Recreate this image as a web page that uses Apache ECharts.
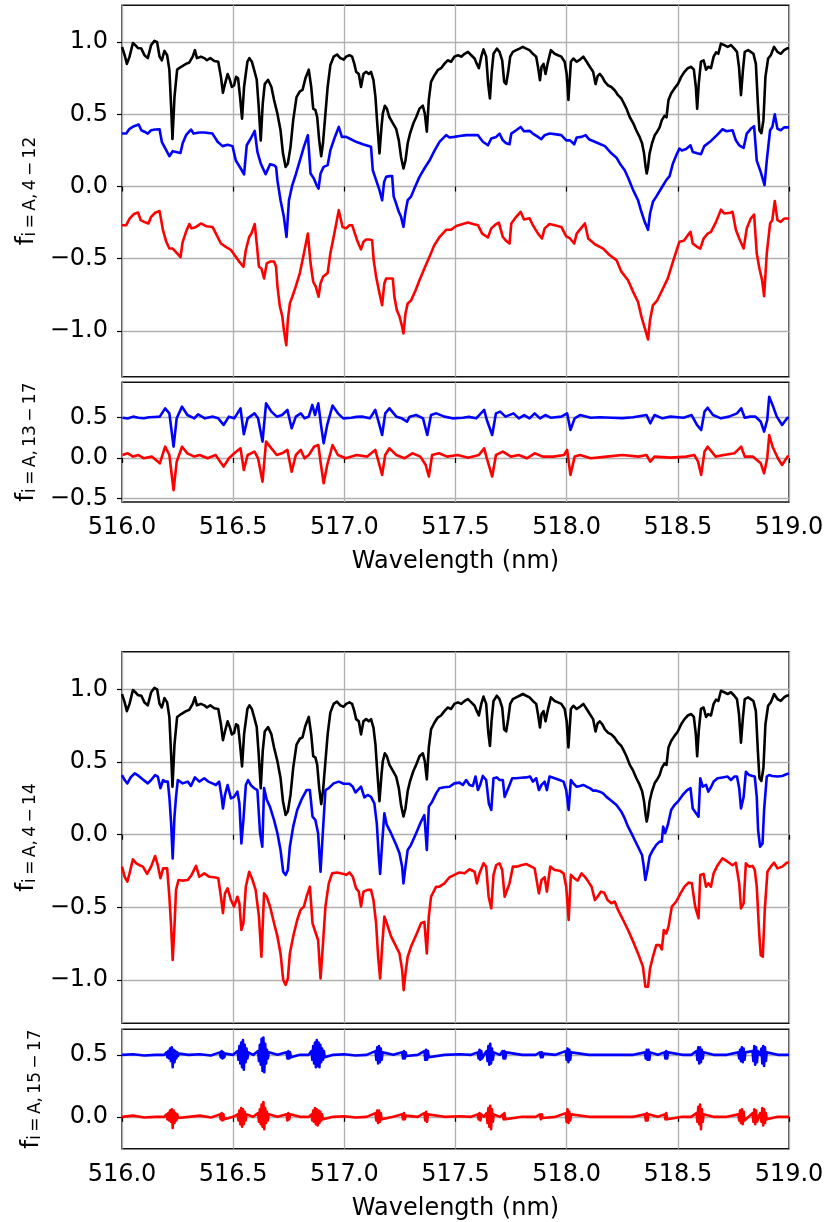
<!DOCTYPE html>
<html>
<head>
<meta charset="utf-8">
<script src="https://cdn.jsdelivr.net/npm/echarts@6/dist/echarts.min.js"></script>
<style>
html,body{margin:0;padding:0;background:#fff}
#chart{width:830px;height:1222px}
</style>
</head>
<body>
<div id="chart"></div>
<script>
// Observed spectrum, [wavelength nm, flux]
const specObserved = [
[516.000,0.967],[516.012,0.91],[516.022,0.85],[516.034,0.90],[516.049,0.995],[516.060,0.98],[516.072,0.96],[516.087,0.956],[516.101,0.91],[516.116,0.89],[516.131,0.98],[516.146,1.01],[516.158,1.0],[516.169,0.90],[516.179,0.875],[516.191,0.94],[516.203,0.91],[516.213,0.81],[516.221,0.55],[516.227,0.33],[516.236,0.62],[516.248,0.81],[516.266,0.83],[516.288,0.85],[516.303,0.86],[516.318,0.90],[516.328,0.945],[516.337,0.89],[516.355,0.90],[516.370,0.89],[516.382,0.875],[516.397,0.89],[516.415,0.87],[516.433,0.865],[516.445,0.76],[516.454,0.65],[516.463,0.71],[516.475,0.78],[516.485,0.74],[516.494,0.69],[516.504,0.70],[516.513,0.76],[516.522,0.75],[516.531,0.62],[516.540,0.47],[516.549,0.69],[516.564,0.865],[516.573,0.89],[516.584,0.865],[516.594,0.81],[516.606,0.74],[516.615,0.55],[516.624,0.32],[516.633,0.575],[516.642,0.71],[516.657,0.74],[516.672,0.69],[516.684,0.60],[516.699,0.505],[516.713,0.39],[516.724,0.23],[516.736,0.136],[516.746,0.16],[516.758,0.275],[516.770,0.46],[516.785,0.62],[516.800,0.66],[516.812,0.67],[516.825,0.75],[516.840,0.81],[516.851,0.69],[516.860,0.54],[516.870,0.53],[516.878,0.48],[516.887,0.32],[516.896,0.21],[516.904,0.30],[516.915,0.505],[516.925,0.69],[516.937,0.84],[516.952,0.90],[516.967,0.915],[516.982,0.89],[516.997,0.88],
[517.008,0.90],[517.023,0.91],[517.035,0.90],[517.045,0.85],[517.053,0.795],[517.065,0.78],[517.075,0.69],[517.086,0.78],[517.098,0.795],[517.110,0.78],[517.120,0.795],[517.131,0.737],[517.140,0.62],[517.147,0.46],[517.158,0.23],[517.167,0.41],[517.173,0.505],[517.182,0.56],[517.191,0.54],[517.203,0.48],[517.218,0.44],[517.233,0.40],[517.245,0.32],[517.255,0.205],[517.266,0.125],[517.275,0.18],[517.285,0.30],[517.296,0.37],[517.311,0.44],[517.323,0.48],[517.338,0.54],[517.353,0.56],[517.362,0.505],[517.371,0.38],[517.380,0.60],[517.390,0.725],[517.405,0.77],[517.420,0.806],[517.435,0.82],[517.450,0.85],[517.465,0.875],[517.480,0.865],[517.495,0.90],[517.511,0.91],[517.526,0.90],[517.541,0.92],[517.556,0.933],[517.571,0.91],[517.586,0.887],[517.596,0.85],[517.605,0.82],[517.616,0.90],[517.626,0.95],[517.638,0.90],[517.647,0.71],[517.655,0.61],[517.662,0.78],[517.671,0.92],[517.686,0.956],[517.698,0.933],[517.710,0.875],[517.719,0.725],[517.728,0.71],[517.737,0.795],[517.746,0.90],[517.758,0.933],[517.773,0.945],[517.788,0.956],[517.803,0.968],[517.818,0.956],[517.833,0.945],[517.848,0.92],[517.863,0.90],[517.872,0.82],[517.880,0.737],[517.887,0.83],[517.896,0.85],[517.905,0.78],[517.914,0.85],[517.929,0.945],[517.946,0.92],[517.961,0.91],[517.976,0.90],[517.991,0.865],[518.000,0.78],[518.008,0.60],
[518.019,0.865],[518.030,0.887],[518.045,0.865],[518.060,0.88],[518.075,0.90],[518.090,0.865],[518.104,0.83],[518.119,0.795],[518.130,0.71],[518.139,0.765],[518.149,0.78],[518.160,0.76],[518.172,0.725],[518.187,0.70],[518.201,0.69],[518.216,0.667],[518.231,0.633],[518.246,0.61],[518.258,0.575],[518.269,0.54],[518.284,0.48],[518.299,0.44],[518.313,0.39],[518.328,0.344],[518.339,0.30],[518.348,0.23],[518.355,0.136],[518.360,0.09],[518.366,0.136],[518.373,0.23],[518.384,0.30],[518.396,0.355],[518.407,0.38],[518.418,0.41],[518.428,0.46],[518.440,0.49],[518.449,0.48],[518.458,0.60],[518.470,0.645],[518.485,0.68],[518.500,0.71],[518.515,0.76],[518.530,0.795],[518.545,0.82],[518.560,0.83],[518.572,0.81],[518.581,0.69],[518.587,0.54],[518.594,0.71],[518.604,0.865],[518.616,0.875],[518.627,0.81],[518.637,0.83],[518.649,0.82],[518.661,0.90],[518.672,0.93],[518.682,0.92],[518.694,0.99],[518.709,0.98],[518.724,0.968],[518.739,0.98],[518.754,0.956],[518.766,0.933],[518.775,0.83],[518.784,0.633],[518.793,0.81],[518.801,0.933],[518.816,0.945],[518.828,0.933],[518.840,0.92],[518.851,0.85],[518.860,0.575],[518.867,0.39],[518.876,0.37],[518.885,0.46],[518.894,0.76],[518.906,0.887],[518.918,0.91],[518.933,0.968],[518.948,0.933],[518.963,0.92],[518.978,0.945],[518.990,0.956],[519.000,0.96]
];

// Components 4-12, offset blue and red
const fitA412Blue = [
[516.000,0.367],[516.019,0.367],[516.034,0.40],[516.054,0.418],[516.075,0.43],[516.087,0.39],[516.101,0.38],[516.116,0.367],[516.131,0.39],[516.149,0.395],[516.169,0.397],[516.179,0.31],[516.191,0.275],[516.203,0.24],[516.213,0.21],[516.228,0.245],[516.243,0.24],[516.263,0.233],[516.273,0.30],[516.288,0.356],[516.310,0.395],[516.322,0.367],[516.348,0.374],[516.370,0.374],[516.407,0.367],[516.430,0.31],[516.452,0.28],[516.475,0.29],[516.497,0.28],[516.512,0.18],[516.534,0.125],[516.549,0.085],[516.561,0.286],[516.579,0.333],[516.597,0.386],[516.609,0.24],[516.624,0.16],[516.646,0.085],[516.666,0.155],[516.684,0.148],[516.693,0.136],[516.699,0.044],[516.713,-0.095],[516.728,-0.21],[516.740,-0.35],[516.751,-0.095],[516.766,0.01],[516.781,0.08],[516.800,0.18],[516.818,0.275],[516.836,0.356],[516.848,0.09],[516.863,0.055],[516.875,0.01],[516.884,-0.015],[516.893,0.09],[516.907,0.136],[516.925,0.148],[516.937,0.25],[516.955,0.333],[516.975,0.413],
[516.989,0.344],[517.008,0.344],[517.023,0.333],[517.053,0.31],[517.083,0.293],[517.120,0.275],[517.128,0.113],[517.143,0.044],[517.158,-0.025],[517.170,-0.095],[517.179,0.032],[517.188,0.067],[517.203,0.072],[517.215,0.072],[517.222,-0.07],[517.233,-0.118],[517.245,-0.175],[517.255,-0.21],[517.266,-0.28],[517.275,-0.175],[517.285,-0.095],[517.300,-0.07],[517.315,-0.014],[517.338,0.067],[517.360,0.125],[517.383,0.18],[517.405,0.247],[517.428,0.31],[517.458,0.356],[517.473,0.34],[517.495,0.344],[517.518,0.35],[517.548,0.356],[517.578,0.356],[517.601,0.356],[517.623,0.31],[517.646,0.286],[517.661,0.333],[517.683,0.344],[517.698,0.367],[517.713,0.32],[517.728,0.30],[517.743,0.293],[517.751,0.367],[517.773,0.39],[517.793,0.413],[517.808,0.383],[517.833,0.386],[517.848,0.367],[517.871,0.344],[517.886,0.328],[517.901,0.356],[517.923,0.367],[517.946,0.363],[517.976,0.356],[517.998,0.32],
[518.015,0.32],[518.034,0.293],[518.045,0.34],[518.067,0.344],[518.085,0.356],[518.100,0.328],[518.134,0.305],[518.172,0.28],[518.201,0.23],[518.224,0.20],[518.239,0.16],[518.261,0.113],[518.276,0.062],[518.299,-0.025],[518.321,-0.095],[518.336,-0.175],[518.351,-0.245],[518.366,-0.30],[518.375,-0.187],[518.388,-0.106],[518.403,-0.07],[518.425,-0.014],[518.448,0.044],[518.463,0.072],[518.478,0.16],[518.493,0.217],[518.507,0.263],[518.518,0.25],[518.537,0.26],[518.557,0.286],[518.567,0.24],[518.587,0.23],[518.604,0.224],[518.619,0.28],[518.649,0.316],[518.676,0.356],[518.701,0.397],[518.719,0.383],[518.746,0.39],[518.761,0.32],[518.776,0.286],[518.796,0.268],[518.810,0.367],[518.828,0.40],[518.843,0.418],[518.855,0.18],[518.873,0.10],[518.890,0.01],[518.900,0.18],[518.915,0.39],[518.925,0.413],[518.936,0.50],[518.948,0.40],[518.963,0.39],[518.978,0.41],[518.990,0.41],[519.000,0.41]
];
const fitA412Red = [
[516.000,-0.268],[516.019,-0.268],[516.034,-0.222],[516.054,-0.19],[516.072,-0.18],[516.084,-0.233],[516.099,-0.245],[516.119,-0.256],[516.131,-0.21],[516.149,-0.182],[516.169,-0.17],[516.184,-0.30],[516.199,-0.383],[516.213,-0.43],[516.228,-0.43],[516.248,-0.464],[516.263,-0.49],[516.273,-0.383],[516.288,-0.314],[516.303,-0.26],[516.313,-0.29],[516.333,-0.28],[516.355,-0.256],[516.378,-0.275],[516.407,-0.28],[516.422,-0.325],[516.445,-0.395],[516.467,-0.418],[516.490,-0.44],[516.507,-0.476],[516.527,-0.52],[516.546,-0.556],[516.557,-0.44],[516.572,-0.35],[516.582,-0.326],[516.597,-0.26],[516.606,-0.395],[516.616,-0.556],[516.627,-0.568],[516.639,-0.637],[516.651,-0.533],[516.666,-0.52],[516.684,-0.52],[516.693,-0.556],[516.699,-0.69],[516.710,-0.83],[516.721,-0.90],[516.728,-0.995],[516.739,-1.10],[516.746,-0.924],[516.755,-0.81],[516.766,-0.764],[516.781,-0.695],[516.800,-0.60],[516.818,-0.464],[516.836,-0.326],[516.848,-0.53],[516.860,-0.66],[516.872,-0.695],[516.884,-0.764],[516.893,-0.67],[516.904,-0.626],[516.925,-0.60],[516.937,-0.464],[516.955,-0.326],[516.975,-0.164],
[516.992,-0.28],[517.008,-0.29],[517.023,-0.268],[517.035,-0.268],[517.045,-0.314],[517.060,-0.383],[517.075,-0.436],[517.086,-0.383],[517.098,-0.367],[517.113,-0.367],[517.125,-0.372],[517.132,-0.51],[517.143,-0.626],[517.158,-0.74],[517.170,-0.822],[517.180,-0.672],[517.188,-0.637],[517.218,-0.637],[517.225,-0.764],[517.236,-0.855],[517.248,-0.90],[517.258,-0.96],[517.266,-1.018],[517.275,-0.88],[517.285,-0.81],[517.300,-0.79],[517.320,-0.72],[517.338,-0.65],[517.360,-0.568],[517.383,-0.487],[517.405,-0.406],[517.428,-0.35],[517.458,-0.30],[517.480,-0.30],[517.503,-0.273],[517.533,-0.26],[517.556,-0.25],[517.578,-0.26],[517.601,-0.268],[517.620,-0.326],[517.646,-0.353],[517.661,-0.29],[517.683,-0.26],[517.695,-0.25],[517.713,-0.35],[517.725,-0.372],[517.743,-0.395],[517.751,-0.256],[517.773,-0.21],[517.793,-0.175],[517.808,-0.228],[517.833,-0.22],[517.848,-0.268],[517.871,-0.326],[517.889,-0.36],[517.901,-0.29],[517.923,-0.26],[517.946,-0.268],[517.976,-0.28],[517.998,-0.346],
[518.015,-0.36],[518.034,-0.395],[518.045,-0.326],[518.064,-0.29],[518.082,-0.256],[518.097,-0.36],[518.127,-0.40],[518.164,-0.43],[518.194,-0.476],[518.224,-0.51],[518.246,-0.59],[518.276,-0.65],[518.299,-0.73],[518.321,-0.80],[518.336,-0.90],[518.351,-0.98],[518.366,-1.06],[518.375,-0.924],[518.388,-0.822],[518.407,-0.79],[518.433,-0.707],[518.455,-0.637],[518.478,-0.52],[518.497,-0.43],[518.507,-0.383],[518.527,-0.376],[518.545,-0.337],[518.557,-0.314],[518.567,-0.395],[518.587,-0.418],[518.601,-0.43],[518.616,-0.36],[518.634,-0.326],[518.649,-0.314],[518.672,-0.245],[518.694,-0.16],[518.709,-0.187],[518.736,-0.182],[518.746,-0.175],[518.761,-0.30],[518.776,-0.36],[518.796,-0.43],[518.810,-0.29],[518.828,-0.222],[518.843,-0.194],[518.855,-0.464],[518.867,-0.568],[518.879,-0.65],[518.888,-0.76],[518.900,-0.464],[518.915,-0.256],[518.925,-0.233],[518.936,-0.10],[518.948,-0.233],[518.963,-0.245],[518.978,-0.222],[518.990,-0.222],[519.000,-0.222]
];

// Components 13-17 residual
const resA1317Blue = [
[516.002,0.50],[516.026,0.49],[516.050,0.513],[516.074,0.50],[516.098,0.492],[516.122,0.505],[516.146,0.509],[516.170,0.513],[516.194,0.616],[516.213,0.554],[516.232,0.14],[516.246,0.492],[516.270,0.637],[516.294,0.533],[516.325,0.492],[516.342,0.542],[516.373,0.492],[516.409,0.513],[516.433,0.492],[516.457,0.41],[516.481,0.513],[516.505,0.492],[516.533,0.616],[516.548,0.294],[516.565,0.492],[516.596,0.554],[516.612,0.492],[516.632,0.203],[516.648,0.678],[516.672,0.575],[516.696,0.513],[516.720,0.533],[516.744,0.596],[516.763,0.368],[516.782,0.513],[516.804,0.554],[516.821,0.492],[516.840,0.513],[516.856,0.658],[516.868,0.533],[516.883,0.678],[516.895,0.41],[516.907,0.182],[516.923,0.41],[516.947,0.65],[516.971,0.554],[516.995,0.492],[517.031,0.50],[517.055,0.51],[517.079,0.513],[517.115,0.492],[517.139,0.596],[517.156,0.43],[517.170,0.285],[517.184,0.554],[517.203,0.616],[517.234,0.513],[517.258,0.492],[517.282,0.45],[517.294,0.513],[517.323,0.533],[517.354,0.492],[517.373,0.285],[517.390,0.533],[517.414,0.554],[517.450,0.513],[517.486,0.492],[517.533,0.50],[517.560,0.51],[517.593,0.492],[517.629,0.596],[517.641,0.471],[517.665,0.285],[517.682,0.554],[517.701,0.575],[517.725,0.513],[517.761,0.554],[517.785,0.492],[517.809,0.533],[517.833,0.492],[517.856,0.554],[517.880,0.492],[517.904,0.533],[517.928,0.50],[517.976,0.513],[518.002,0.554],[518.017,0.347],[518.036,0.492],[518.060,0.533],[518.108,0.50],[518.150,0.505],[518.203,0.50],[518.250,0.495],[518.299,0.505],[518.359,0.533],[518.376,0.43],[518.395,0.533],[518.431,0.492],[518.467,0.513],[518.526,0.50],[518.562,0.533],[518.586,0.41],[518.605,0.347],[518.620,0.575],[518.634,0.624],[518.658,0.533],[518.694,0.492],[518.730,0.513],[518.766,0.554],[518.785,0.616],[518.801,0.50],[518.825,0.513],[518.849,0.513],[518.873,0.45],[518.888,0.327],[518.902,0.471],[518.911,0.76],[518.926,0.658],[518.945,0.513],[518.969,0.41],[518.993,0.50],[519.000,0.50]
];
const resA1317Red = [
[516.002,0.037],[516.026,0.058],[516.050,0.017],[516.074,0.037],[516.098,-0.004],[516.134,0.017],[516.170,-0.066],[516.194,0.14],[516.213,0.037],[516.232,-0.40],[516.246,-0.045],[516.270,0.14],[516.294,0.058],[516.325,0.017],[516.349,0.037],[516.385,-0.004],[516.421,0.037],[516.457,-0.107],[516.481,-0.004],[516.505,0.058],[516.533,0.12],[516.548,-0.149],[516.565,0.037],[516.596,0.079],[516.612,-0.004],[516.632,-0.294],[516.648,0.203],[516.672,0.12],[516.696,0.037],[516.720,0.058],[516.744,0.10],[516.763,-0.17],[516.782,0.037],[516.804,0.10],[516.821,-0.004],[516.840,0.037],[516.864,0.14],[516.883,0.161],[516.895,-0.087],[516.907,-0.314],[516.923,-0.087],[516.947,0.161],[516.971,0.037],[517.007,-0.004],[517.055,0.037],[517.103,0.017],[517.139,0.10],[517.156,-0.066],[517.170,-0.21],[517.184,0.037],[517.203,0.12],[517.234,0.037],[517.270,-0.004],[517.306,0.058],[517.342,0.017],[517.366,-0.087],[517.380,-0.23],[517.395,0.037],[517.426,0.058],[517.462,0.017],[517.510,0.037],[517.557,0.004],[517.605,0.037],[517.629,0.12],[517.641,-0.004],[517.665,-0.23],[517.682,0.037],[517.713,0.079],[517.749,0.017],[517.785,0.037],[517.821,-0.004],[517.856,0.058],[517.892,0.017],[517.940,0.017],[517.988,0.037],[518.002,0.10],[518.017,-0.21],[518.036,0.017],[518.060,0.037],[518.108,-0.004],[518.179,0.017],[518.251,0.037],[518.323,0.017],[518.359,0.037],[518.376,-0.045],[518.395,0.017],[518.467,0.004],[518.538,0.017],[518.574,0.037],[518.591,-0.045],[518.605,-0.21],[518.620,0.079],[518.634,0.14],[518.670,0.017],[518.706,0.037],[518.754,0.058],[518.785,0.14],[518.801,0.017],[518.837,0.017],[518.873,-0.066],[518.888,-0.19],[518.902,-0.004],[518.911,0.285],[518.926,0.14],[518.950,-0.004],[518.969,-0.087],[518.993,0.017],[519.000,0.02]
];

// Components 4-14, offset blue and red
const fitA414Blue = [
[516.000,0.41],[516.012,0.376],[516.024,0.353],[516.039,0.394],[516.057,0.422],[516.075,0.404],[516.094,0.38],[516.116,0.353],[516.131,0.376],[516.149,0.41],[516.161,0.40],[516.173,0.32],[516.185,0.376],[516.194,0.365],[516.206,0.365],[516.213,0.26],[516.221,0.078],[516.228,-0.163],[516.236,0.124],[516.243,0.26],[516.251,0.376],[516.273,0.353],[516.296,0.365],[516.310,0.335],[516.328,0.394],[516.348,0.365],[516.370,0.388],[516.388,0.365],[516.407,0.353],[516.422,0.342],[516.437,0.365],[516.448,0.26],[516.454,0.18],[516.463,0.273],[516.475,0.342],[516.490,0.25],[516.504,0.26],[516.519,0.296],[516.528,0.215],[516.537,-0.06],[516.546,0.10],[516.557,0.342],[516.567,0.376],[516.579,0.342],[516.594,0.32],[516.609,0.307],[516.621,0.01],[516.631,-0.083],[516.639,0.32],[516.651,0.24],[516.666,0.19],[516.684,0.10],[516.699,0.01],[516.713,-0.105],[516.725,-0.255],[516.736,-0.278],[516.746,-0.243],[516.755,-0.083],[516.770,0.055],[516.788,0.17],[516.810,0.25],[516.830,0.307],[516.845,0.307],[516.857,0.124],[516.870,0.10],[516.882,0.01],[516.893,-0.255],[516.904,0.032],[516.915,0.307],[516.930,0.32],[516.952,0.353],[516.975,0.365],[516.997,0.35],
[517.023,0.35],[517.038,0.33],[517.050,0.29],[517.060,0.307],[517.075,0.33],[517.090,0.257],[517.105,0.273],[517.120,0.26],[517.135,0.215],[517.146,0.078],[517.155,-0.15],[517.161,-0.27],[517.170,-0.06],[517.180,0.147],[517.191,0.067],[517.210,0.01],[517.233,-0.07],[517.248,-0.128],[517.260,-0.22],[517.266,-0.335],[517.275,-0.22],[517.285,-0.105],[517.300,-0.07],[517.323,0.01],[517.345,0.09],[517.360,0.135],[517.371,-0.105],[517.380,0.193],[517.395,0.227],[517.413,0.284],[517.428,0.32],[517.450,0.326],[517.473,0.33],[517.495,0.353],[517.518,0.358],[517.533,0.342],[517.548,0.376],[517.563,0.342],[517.578,0.335],[517.590,0.40],[517.601,0.307],[517.611,0.342],[517.623,0.404],[517.638,0.376],[517.650,0.215],[517.661,0.17],[517.671,0.388],[517.686,0.394],[517.698,0.376],[517.713,0.376],[517.721,0.26],[517.728,0.25],[517.740,0.33],[517.755,0.388],[517.773,0.388],[517.796,0.392],[517.818,0.394],[517.836,0.40],[517.848,0.365],[517.863,0.388],[517.875,0.307],[517.887,0.342],[517.901,0.365],[517.911,0.307],[517.923,0.40],[517.946,0.388],[517.968,0.376],[517.986,0.365],[517.998,0.307],[518.009,0.17],
[518.019,0.376],[518.030,0.353],[518.045,0.33],[518.060,0.335],[518.075,0.342],[518.090,0.33],[518.104,0.32],[518.119,0.303],[518.134,0.303],[518.149,0.296],[518.164,0.284],[518.179,0.26],[518.201,0.234],[518.224,0.204],[518.246,0.158],[518.261,0.112],[518.276,0.055],[518.291,0.01],[518.306,-0.037],[518.321,-0.083],[518.339,-0.14],[518.346,-0.21],[518.354,-0.312],[518.363,-0.243],[518.373,-0.15],[518.388,-0.105],[518.403,-0.07],[518.418,-0.048],[518.428,-0.048],[518.434,0.055],[518.443,0.01],[518.455,0.067],[518.470,0.17],[518.485,0.204],[518.500,0.227],[518.522,0.273],[518.542,0.307],[518.557,0.32],[518.567,0.18],[518.582,0.147],[518.593,0.124],[518.601,0.388],[518.612,0.33],[518.627,0.342],[518.637,0.296],[518.649,0.326],[518.661,0.365],[518.679,0.388],[518.701,0.394],[518.724,0.40],[518.739,0.376],[518.754,0.40],[518.766,0.40],[518.776,0.32],[518.784,0.18],[518.796,0.26],[518.806,0.433],[518.821,0.41],[518.836,0.404],[518.846,0.40],[518.855,0.26],[518.861,0.032],[518.870,-0.083],[518.881,-0.06],[518.888,0.17],[518.900,0.40],[518.910,0.41],[518.925,0.404],[518.948,0.40],[518.970,0.404],[518.990,0.417],[519.000,0.42]
];
const fitA414Red = [
[516.000,-0.22],[516.012,-0.29],[516.024,-0.323],[516.034,-0.266],[516.049,-0.17],[516.064,-0.197],[516.079,-0.21],[516.094,-0.22],[516.113,-0.27],[516.131,-0.22],[516.149,-0.147],[516.161,-0.21],[516.173,-0.30],[516.185,-0.232],[516.203,-0.232],[516.213,-0.427],[516.221,-0.633],[516.228,-0.862],[516.236,-0.633],[516.243,-0.38],[516.254,-0.312],[516.273,-0.316],[516.296,-0.312],[516.313,-0.277],[516.333,-0.215],[516.348,-0.29],[516.370,-0.266],[516.393,-0.29],[516.415,-0.293],[516.433,-0.30],[516.445,-0.427],[516.454,-0.54],[516.463,-0.404],[516.475,-0.37],[516.490,-0.45],[516.504,-0.495],[516.519,-0.427],[516.528,-0.472],[516.537,-0.656],[516.546,-0.61],[516.557,-0.358],[516.572,-0.255],[516.587,-0.312],[516.601,-0.38],[516.616,-0.564],[516.627,-0.84],[516.639,-0.404],[516.651,-0.427],[516.666,-0.495],[516.684,-0.61],[516.699,-0.70],[516.713,-0.817],[516.725,-1.0],[516.736,-1.034],[516.746,-0.99],[516.755,-0.817],[516.770,-0.70],[516.788,-0.587],[516.803,-0.518],[516.818,-0.495],[516.830,-0.427],[516.845,-0.358],[516.857,-0.61],[516.872,-0.68],[516.882,-0.725],[516.893,-0.99],[516.904,-0.748],[516.915,-0.495],[516.930,-0.335],[516.945,-0.266],[516.967,-0.26],[516.997,-0.27],
[517.008,-0.277],[517.023,-0.26],[517.038,-0.29],[517.053,-0.37],[517.065,-0.392],[517.075,-0.495],[517.086,-0.392],[517.105,-0.38],[517.120,-0.38],[517.131,-0.45],[517.143,-0.61],[517.152,-0.84],[517.161,-0.99],[517.170,-0.77],[517.180,-0.564],[517.191,-0.61],[517.210,-0.70],[517.233,-0.77],[517.248,-0.817],[517.260,-0.93],[517.267,-1.07],[517.275,-0.954],[517.285,-0.84],[517.300,-0.77],[517.323,-0.69],[517.345,-0.61],[517.360,-0.60],[517.371,-0.817],[517.380,-0.564],[517.390,-0.427],[517.413,-0.358],[517.428,-0.358],[517.450,-0.335],[517.473,-0.293],[517.495,-0.277],[517.518,-0.26],[517.541,-0.266],[517.563,-0.238],[517.586,-0.255],[517.596,-0.335],[517.608,-0.266],[517.626,-0.197],[517.638,-0.22],[517.649,-0.427],[517.661,-0.507],[517.671,-0.277],[517.683,-0.21],[517.698,-0.197],[517.710,-0.243],[517.721,-0.427],[517.728,-0.438],[517.743,-0.335],[517.758,-0.22],[517.773,-0.22],[517.796,-0.21],[517.818,-0.202],[517.841,-0.22],[517.856,-0.232],[517.875,-0.404],[517.887,-0.312],[517.901,-0.293],[517.911,-0.392],[517.926,-0.22],[517.946,-0.243],[517.968,-0.248],[517.986,-0.266],[517.998,-0.358],[518.009,-0.587],
[518.019,-0.277],[518.034,-0.30],[518.049,-0.316],[518.067,-0.266],[518.082,-0.29],[518.097,-0.323],[518.112,-0.358],[518.127,-0.45],[518.139,-0.427],[518.154,-0.392],[518.169,-0.40],[518.184,-0.45],[518.201,-0.472],[518.216,-0.46],[518.231,-0.518],[518.254,-0.587],[518.276,-0.656],[518.299,-0.736],[518.321,-0.817],[518.343,-0.908],[518.354,-1.046],[518.366,-1.046],[518.375,-0.92],[518.388,-0.84],[518.403,-0.76],[518.418,-0.76],[518.428,-0.79],[518.437,-0.656],[518.448,-0.68],[518.458,-0.633],[518.473,-0.495],[518.493,-0.46],[518.512,-0.404],[518.530,-0.358],[518.548,-0.33],[518.563,-0.335],[518.578,-0.495],[518.593,-0.575],[518.601,-0.277],[518.616,-0.27],[518.627,-0.358],[518.637,-0.335],[518.649,-0.358],[518.661,-0.266],[518.679,-0.21],[518.701,-0.163],[518.724,-0.186],[518.746,-0.21],[518.761,-0.193],[518.776,-0.335],[518.784,-0.507],[518.796,-0.472],[518.806,-0.197],[518.821,-0.22],[518.836,-0.215],[518.846,-0.243],[518.855,-0.358],[518.866,-0.68],[518.873,-0.83],[518.882,-0.84],[518.891,-0.518],[518.903,-0.255],[518.918,-0.22],[518.933,-0.193],[518.948,-0.232],[518.970,-0.22],[518.990,-0.193],[519.000,-0.19]
];

// Components 15-17 residual
const resA1517Blue = [
[516.00,0.50],[516.05,0.505],[516.10,0.495],[516.15,0.50],[516.19,0.50],
[516.200,0.52],[516.204,0.48],[516.208,0.53],[516.212,0.47],[516.216,0.55],[516.220,0.45],[516.224,0.56],[516.228,0.40],[516.232,0.54],[516.236,0.44],[516.240,0.53],[516.244,0.47],[516.248,0.52],[516.252,0.49],[516.256,0.51],
[516.30,0.50],[516.35,0.505],[516.40,0.495],
[516.440,0.52],[516.444,0.48],[516.448,0.53],[516.452,0.47],[516.456,0.52],[516.460,0.48],[516.464,0.51],
[516.50,0.50],
[516.520,0.53],[516.524,0.46],[516.528,0.57],[516.532,0.43],[516.536,0.60],[516.540,0.40],[516.544,0.62],[516.548,0.38],[516.552,0.58],[516.556,0.44],[516.560,0.55],[516.564,0.47],[516.568,0.52],
[516.59,0.50],
[516.612,0.53],[516.616,0.45],[516.620,0.58],[516.624,0.42],[516.628,0.63],[516.632,0.37],[516.636,0.64],[516.640,0.36],[516.644,0.59],[516.648,0.43],[516.652,0.54],[516.656,0.47],[516.660,0.52],
[516.70,0.50],
[516.740,0.52],[516.744,0.47],[516.748,0.53],[516.752,0.47],[516.756,0.52],[516.760,0.48],
[516.80,0.50],[516.84,0.50],
[516.852,0.53],[516.856,0.46],[516.860,0.57],[516.864,0.43],[516.868,0.60],[516.872,0.40],[516.876,0.62],[516.880,0.41],[516.884,0.60],[516.888,0.40],[516.892,0.58],[516.896,0.44],[516.900,0.55],[516.904,0.46],[516.908,0.53],[516.912,0.48],
[516.95,0.50],[517.00,0.505],[517.05,0.495],[517.10,0.50],
[517.140,0.53],[517.144,0.46],[517.148,0.56],[517.152,0.43],[517.156,0.57],[517.160,0.44],[517.164,0.55],[517.168,0.46],[517.172,0.52],
[517.22,0.50],
[517.260,0.52],[517.264,0.47],[517.268,0.53],[517.272,0.47],[517.276,0.52],[517.280,0.49],
[517.33,0.50],
[517.360,0.53],[517.364,0.46],[517.368,0.54],[517.372,0.46],[517.376,0.53],[517.380,0.48],
[517.45,0.50],[517.52,0.505],[517.57,0.50],
[517.600,0.52],[517.604,0.47],[517.608,0.54],[517.612,0.46],[517.616,0.53],[517.620,0.47],[517.628,0.50],[517.640,0.53],[517.644,0.45],[517.648,0.57],[517.652,0.42],[517.656,0.59],[517.660,0.43],[517.664,0.55],[517.668,0.46],[517.672,0.52],
[517.70,0.50],
[517.712,0.53],[517.716,0.47],[517.720,0.53],[517.724,0.47],[517.728,0.52],
[517.80,0.50],[517.86,0.50],
[517.880,0.52],[517.884,0.48],[517.888,0.52],[517.892,0.48],[517.896,0.51],
[517.95,0.50],
[517.996,0.53],[518.000,0.46],[518.004,0.55],[518.008,0.44],[518.012,0.54],[518.016,0.46],[518.020,0.52],
[518.10,0.50],[518.20,0.50],[518.30,0.50],
[518.352,0.52],[518.356,0.47],[518.360,0.54],[518.364,0.46],[518.368,0.54],[518.372,0.46],[518.376,0.52],
[518.41,0.50],
[518.440,0.52],[518.444,0.47],[518.448,0.53],[518.452,0.47],[518.456,0.52],
[518.52,0.50],[518.56,0.50],
[518.584,0.53],[518.588,0.46],[518.592,0.56],[518.596,0.43],[518.600,0.56],[518.604,0.44],[518.608,0.54],[518.612,0.47],[518.616,0.52],
[518.66,0.50],[518.72,0.50],
[518.772,0.52],[518.776,0.47],[518.780,0.54],[518.784,0.45],[518.788,0.56],[518.792,0.44],[518.796,0.55],[518.800,0.46],[518.804,0.52],
[518.836,0.53],[518.840,0.45],[518.844,0.57],[518.848,0.42],[518.852,0.56],[518.856,0.44],[518.860,0.53],[518.870,0.50],[518.876,0.55],[518.880,0.43],[518.884,0.57],[518.888,0.41],[518.892,0.56],[518.896,0.45],[518.900,0.52],
[518.95,0.50],[519.00,0.50]
];
const resA1517Red = [
[516.00,0.0],[516.05,0.01],[516.10,-0.005],[516.15,0.0],[516.19,0.0],
[516.200,0.02],[516.204,-0.02],[516.208,0.03],[516.212,-0.03],[516.216,0.05],[516.220,-0.04],[516.224,0.06],[516.228,-0.09],[516.232,0.05],[516.236,-0.05],[516.240,0.03],[516.244,-0.03],[516.248,0.02],[516.252,-0.01],
[516.30,0.0],[516.35,0.01],[516.40,-0.005],
[516.440,0.02],[516.444,-0.02],[516.448,0.03],[516.452,-0.03],[516.456,0.02],[516.460,-0.02],
[516.50,0.0],
[516.520,0.02],[516.524,-0.03],[516.528,0.05],[516.532,-0.06],[516.536,0.07],[516.540,-0.08],[516.544,0.06],[516.548,-0.06],[516.552,0.04],[516.556,-0.03],[516.560,0.02],
[516.59,0.0],
[516.612,0.03],[516.616,-0.04],[516.620,0.06],[516.624,-0.06],[516.628,0.10],[516.632,-0.08],[516.636,0.12],[516.640,-0.10],[516.644,0.07],[516.648,-0.05],[516.652,0.04],[516.656,-0.03],[516.660,0.02],
[516.70,0.0],
[516.740,0.02],[516.744,-0.03],[516.748,0.03],[516.752,-0.02],[516.756,0.02],
[516.80,0.0],[516.84,0.0],
[516.852,0.02],[516.856,-0.03],[516.860,0.05],[516.864,-0.04],[516.868,0.07],[516.872,-0.06],[516.876,0.06],[516.880,-0.07],[516.884,0.05],[516.888,-0.05],[516.892,0.04],[516.896,-0.03],[516.900,0.02],[516.904,-0.02],
[516.95,0.0],[517.00,0.005],[517.05,-0.005],[517.10,0.0],
[517.140,0.03],[517.144,-0.03],[517.148,0.05],[517.152,-0.05],[517.156,0.05],[517.160,-0.04],[517.164,0.03],[517.168,-0.02],
[517.22,0.0],
[517.260,0.02],[517.264,-0.02],[517.268,0.03],[517.272,-0.02],[517.276,0.01],
[517.33,0.0],
[517.360,0.03],[517.364,-0.03],[517.368,0.04],[517.372,-0.04],[517.376,0.02],
[517.45,0.0],[517.52,0.005],[517.57,0.0],
[517.600,0.02],[517.604,-0.02],[517.608,0.03],[517.612,-0.03],[517.616,0.02],[517.628,0.0],[517.640,0.03],[517.644,-0.05],[517.648,0.07],[517.652,-0.08],[517.656,0.09],[517.660,-0.10],[517.664,0.06],[517.668,-0.04],[517.672,0.02],
[517.70,0.0],
[517.712,0.02],[517.716,-0.02],[517.720,0.03],[517.724,-0.02],
[517.80,0.0],[517.86,0.0],
[517.880,0.02],[517.884,-0.02],[517.888,0.02],[517.892,-0.01],
[517.95,0.0],
[517.996,0.03],[518.000,-0.04],[518.004,0.06],[518.008,-0.05],[518.012,0.04],[518.016,-0.03],[518.020,0.02],
[518.10,0.0],[518.20,0.0],[518.30,0.0],
[518.352,0.02],[518.356,-0.03],[518.360,0.03],[518.364,-0.03],[518.368,0.02],
[518.41,0.0],
[518.440,0.02],[518.444,-0.02],[518.448,0.03],[518.452,-0.02],
[518.52,0.0],[518.56,0.0],
[518.584,0.03],[518.588,-0.04],[518.592,0.08],[518.596,-0.06],[518.600,0.10],[518.604,-0.10],[518.608,0.06],[518.612,-0.04],[518.616,0.02],
[518.66,0.0],[518.72,0.0],
[518.772,0.02],[518.776,-0.03],[518.780,0.05],[518.784,-0.05],[518.788,0.06],[518.792,-0.06],[518.796,0.04],[518.800,-0.03],
[518.836,0.03],[518.840,-0.04],[518.844,0.06],[518.848,-0.06],[518.852,0.05],[518.856,-0.04],[518.864,0.0],[518.870,0.03],[518.876,-0.04],[518.880,0.07],[518.884,-0.07],[518.888,0.06],[518.892,-0.05],[518.896,0.03],[518.900,-0.02],
[518.95,0.0],[519.00,0.0]
];

// Axis ticks and labels
const wavelengthRange = [516.0, 519.0];
const wavelengthStep = 0.5;
const fluxTicksMain = [-1.0, -0.5, 0.0, 0.5, 1.0];
const fluxTicksRes1317 = [-0.5, 0.0, 0.5];
const fluxTicksRes1517 = [0.0, 0.5];
const xAxisTitle = 'Wavelength (nm)';
const T = '\u2009';
const yTitles = [
  '{f|f}{s|i' + T + '=' + T + 'A,' + T + '4' + T + '\u2212' + T + '12}',
  '{f|f}{s|i' + T + '=' + T + 'A,' + T + '13' + T + '\u2212' + T + '17}',
  '{f|f}{s|i' + T + '=' + T + 'A,' + T + '4' + T + '\u2212' + T + '14}',
  '{f|f}{s|i' + T + '=' + T + 'A,' + T + '15' + T + '\u2212' + T + '17}'
];

const FONT = 'DejaVu Sans';
const panels = [
  {top: 5.3,    height: 371.4, yMin: -1.318, yMax: 1.256, ticks: fluxTicksMain,    showX: false},
  {top: 382.3,  height: 119.7, yMin: -0.546, yMax: 0.939, ticks: fluxTicksRes1317, showX: true},
  {top: 651.7,  height: 371.6, yMin: -1.298, yMax: 1.259, ticks: fluxTicksMain,    showX: false},
  {top: 1029.3, height: 119.4, yMin: -0.257, yMax: 0.706, ticks: fluxTicksRes1517, showX: true}
];

const fmtFlux = v => (v < -1e-9 ? '\u2212' : '') + Math.abs(v).toFixed(1);

const grids = panels.map(p => ({
  left: 122, width: 667, top: p.top, height: p.height,
  show: true, borderColor: '#111', borderWidth: 1.4, backgroundColor: 'transparent'
}));

const xAxes = panels.map((p, i) => ({
  type: 'value', gridIndex: i,
  min: wavelengthRange[0], max: wavelengthRange[1], interval: wavelengthStep,
  axisLine: {show: false},
  axisTick: {show: true, inside: false, length: 5, lineStyle: {color: '#000', width: 1.2}},
  axisLabel: {show: p.showX, margin: 14, fontSize: 24, color: '#000', fontFamily: FONT,
              formatter: v => v.toFixed(1)},
  splitLine: {show: true, lineStyle: {color: '#b0b0b0', width: 1.3}},
  name: p.showX ? xAxisTitle : '',
  nameLocation: 'middle', nameGap: 48,
  nameTextStyle: {fontSize: 24, color: '#000', fontFamily: FONT}
}));

const yAxes = panels.map((p, i) => ({
  type: 'value', gridIndex: i, min: p.yMin, max: p.yMax,
  axisLine: {show: false},
  axisTick: {show: true, inside: false, length: 5, customValues: p.ticks,
             lineStyle: {color: '#000', width: 1.2}},
  axisLabel: {show: true, margin: 14, fontSize: 24, color: '#000', fontFamily: FONT,
              customValues: p.ticks, formatter: fmtFlux},
  splitLine: {show: true, lineStyle: {color: '#b0b0b0', width: 1.3}},
  name: yTitles[i], nameLocation: 'middle', nameRotate: 90, nameGap: 78,
  nameTextStyle: {
    color: '#000', fontFamily: FONT,
    rich: {
      f: {fontSize: 25, lineHeight: 26, verticalAlign: 'bottom', fontFamily: FONT, color: '#000'},
      s: {fontSize: 17, lineHeight: 16, verticalAlign: 'bottom', fontFamily: FONT, color: '#000'}
    }
  }
}));

function line(data, color, idx) {
  return {
    type: 'line', data: data, xAxisIndex: idx, yAxisIndex: idx,
    showSymbol: false, symbol: 'none', smooth: false, clip: true,
    lineStyle: {color: color, width: 2.6, join: 'round'},
    itemStyle: {color: color}, silent: true, animation: false
  };
}

const series = [
  line(specObserved, '#000000', 0),
  line(fitA412Blue, '#0000ff', 0),
  line(fitA412Red, '#ff0000', 0),
  line(resA1317Blue, '#0000ff', 1),
  line(resA1317Red, '#ff0000', 1),
  line(specObserved, '#000000', 2),
  line(fitA414Blue, '#0000ff', 2),
  line(fitA414Red, '#ff0000', 2),
  line(resA1517Blue, '#0000ff', 3),
  line(resA1517Red, '#ff0000', 3)
];

const chart = echarts.init(document.getElementById('chart'), null, {renderer: 'canvas', width: 830, height: 1222});
chart.setOption({
  backgroundColor: '#ffffff',
  animation: false,
  grid: grids,
  xAxis: xAxes,
  yAxis: yAxes,
  series: series
});
</script>
</body>
</html>
